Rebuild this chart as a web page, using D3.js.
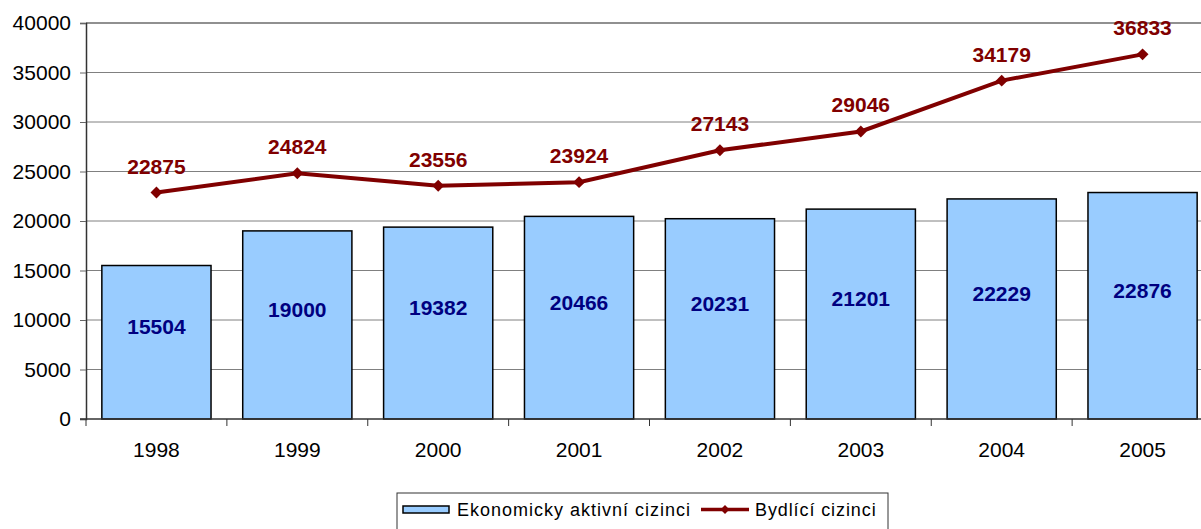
<!DOCTYPE html>
<html>
<head>
<meta charset="utf-8">
<script src="https://cdn.jsdelivr.net/npm/d3@7"></script>
<style>
  body { margin: 0; background: #fff; }
  text { font-family: "Liberation Sans", Arial, sans-serif; }
</style>
</head>
<body>
<svg id="chart" width="1201" height="529"></svg>
<script>
const years = ['1998', '1999', '2000', '2001', '2002', '2003', '2004', '2005'];
const activeForeigners = [15504, 19000, 19382, 20466, 20231, 21201, 22229, 22876];
const residentForeigners = [22875, 24824, 23556, 23924, 27143, 29046, 34179, 36833];
const yTicks = [0, 5000, 10000, 15000, 20000, 25000, 30000, 35000, 40000];
const seriesNames = ['Ekonomicky aktivní cizinci', 'Bydlící cizinci'];

const svg = d3.select('#chart');
const margin = { top: 23, left: 86, bottom: 110 };
const plotRight = 1213; // plot area runs a bit past the window edge

const x = d3.scaleBand()
    .domain(years)
    .range([margin.left, plotRight])
    .paddingInner(0.225)
    .paddingOuter(0.1125);
const xb = d3.scaleBand().domain(years).range([margin.left, plotRight]);

const y = d3.scaleLinear()
    .domain([0, 40000])
    .range([419, margin.top]);

// grid lines
svg.append('g')
    .selectAll('line')
    .data(yTicks.filter(d => d > 0))
    .enter()
    .append('line')
    .attr('x1', margin.left).attr('x2', plotRight)
    .attr('y1', d => y(d)).attr('y2', d => y(d))
    .attr('stroke', d => d === 40000 ? '#909090' : '#808080')
    .attr('stroke-width', d => d === 40000 ? 2 : 1);

// bars
svg.append('g')
    .selectAll('rect')
    .data(activeForeigners)
    .enter()
    .append('rect')
    .attr('x', (d, i) => x(years[i]))
    .attr('y', d => y(d))
    .attr('width', x.bandwidth())
    .attr('height', d => y(0) - y(d))
    .attr('fill', '#99CCFF')
    .attr('stroke', '#000')
    .attr('stroke-width', 1.5);

// y axis
const yAxis = svg.append('g')
    .attr('transform', `translate(${margin.left},0)`)
    .call(d3.axisLeft(y).tickValues(yTicks).tickSize(6).tickPadding(9).tickFormat(d3.format('d')));
yAxis.select('.domain').attr('stroke', '#333').attr('stroke-width', 1.5);
yAxis.selectAll('.tick line').attr('stroke', '#666');
yAxis.selectAll('text').attr('font-size', 21).attr('fill', '#000')
    .attr('font-family', '"Liberation Sans", Arial, sans-serif');

// x axis
const xAxis = svg.append('g')
    .attr('transform', `translate(0,${y(0)})`);
xAxis.append('line')
    .attr('x1', margin.left - 6).attr('x2', plotRight)
    .attr('stroke', '#333').attr('stroke-width', 1.5);
xAxis.selectAll('.bt')
    .data(years)
    .enter()
    .append('line')
    .attr('x1', d => xb(d)).attr('x2', d => xb(d))
    .attr('y1', 0).attr('y2', 7)
    .attr('stroke', '#333');
xAxis.selectAll('.xl')
    .data(years)
    .enter()
    .append('text')
    .attr('x', d => xb(d) + xb.bandwidth() / 2)
    .attr('y', 38)
    .attr('text-anchor', 'middle')
    .attr('font-size', 21)
    .text(d => d);

// line series
const cx = i => xb(years[i]) + xb.bandwidth() / 2;
svg.append('path')
    .datum(residentForeigners)
    .attr('fill', 'none')
    .attr('stroke', '#800000')
    .attr('stroke-width', 4)
    .attr('d', d3.line().x((d, i) => cx(i)).y(d => y(d)));

svg.append('g')
    .selectAll('path')
    .data(residentForeigners)
    .enter()
    .append('path')
    .attr('transform', (d, i) => `translate(${cx(i)},${y(d)})`)
    .attr('d', d3.symbol(d3.symbolDiamond2, 90))
    .attr('fill', '#800000');

// bar labels
svg.append('g')
    .selectAll('text')
    .data(activeForeigners)
    .enter()
    .append('text')
    .attr('x', (d, i) => cx(i))
    .attr('y', d => (y(d) + y(0)) / 2 - 8)
    .attr('text-anchor', 'middle')
    .attr('font-size', 21)
    .attr('font-weight', 'bold')
    .attr('fill', '#000080')
    .text(d => d);

// line labels
svg.append('g')
    .selectAll('text')
    .data(residentForeigners)
    .enter()
    .append('text')
    .attr('x', (d, i) => cx(i))
    .attr('y', d => y(d) - 19)
    .attr('text-anchor', 'middle')
    .attr('font-size', 21)
    .attr('font-weight', 'bold')
    .attr('fill', '#800000')
    .text(d => d);

// legend
const legend = svg.append('g').attr('transform', 'translate(397,493)');
legend.append('rect')
    .attr('width', 491).attr('height', 45)
    .attr('fill', '#fff').attr('stroke', '#333').attr('stroke-width', 1);
legend.append('rect')
    .attr('x', 6).attr('y', 13).attr('width', 46).attr('height', 7)
    .attr('fill', '#99CCFF').attr('stroke', '#000').attr('stroke-width', 1.5);
legend.append('text')
    .attr('x', 60).attr('y', 23)
    .attr('font-size', 18).attr('letter-spacing', 1)
    .text(seriesNames[0]);
legend.append('line')
    .attr('x1', 304).attr('x2', 352).attr('y1', 16.5).attr('y2', 16.5)
    .attr('stroke', '#800000').attr('stroke-width', 3.5);
legend.append('path')
    .attr('transform', 'translate(328,16.5)')
    .attr('d', d3.symbol(d3.symbolDiamond2, 50))
    .attr('fill', '#800000');
legend.append('text')
    .attr('x', 358).attr('y', 23)
    .attr('font-size', 18).attr('letter-spacing', 0.9)
    .text(seriesNames[1]);
</script>
</body>
</html>
